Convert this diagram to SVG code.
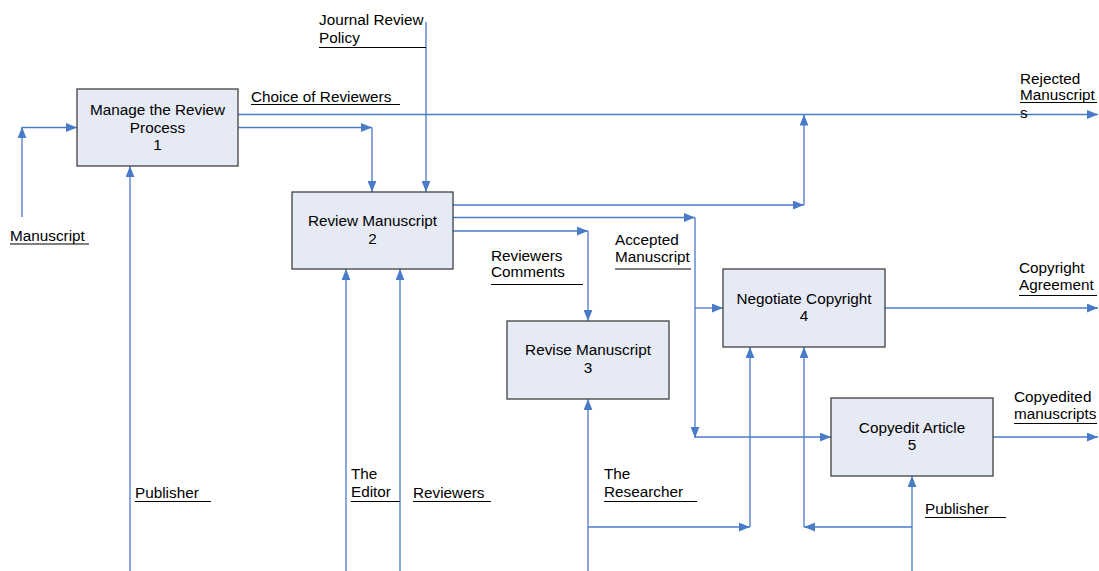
<svg xmlns="http://www.w3.org/2000/svg" width="1099" height="571" viewBox="0 0 1099 571">
  <defs>
    <marker id="arrow" viewBox="0 0 10 8" refX="10" refY="4" markerUnits="userSpaceOnUse" markerWidth="11" markerHeight="9" orient="auto">
      <path d="M0,0 L10,4 L0,8 Z" fill="#4A7BC8"/>
    </marker>
    <style>
      .box { fill: #E6EAF4; stroke: #404040; stroke-width: 1.3; }
      .flow { fill: none; stroke: #4A7BC8; stroke-width: 1.3; marker-end: url(#arrow); }
      .ul { stroke: #000; stroke-width: 1; fill: none; }
      text { font-family: "Liberation Sans", Arial, sans-serif; font-size: 15.3px; fill: #000; }
      .c { text-anchor: middle; }
    </style>
  </defs>
  <rect width="1099" height="571" fill="#fff"/>

  <!-- connectors -->
  <g id="connectors">
    <path class="flow" d="M22,217 V127"/>
    <path class="flow" d="M22,127.5 H77"/>
    <path class="flow" d="M238,114.5 H1098"/>
    <path class="flow" d="M238,127.5 H372"/>
    <path class="flow" d="M372,127.5 V192"/>
    <path class="flow" d="M426,22 V192"/>
    <path class="flow" d="M130,571 V166"/>
    <path class="flow" d="M346,571 V269"/>
    <path class="flow" d="M400,571 V269"/>
    <path class="flow" d="M453,205 H804"/>
    <path class="flow" d="M804,205 V114.5"/>
    <path class="flow" d="M453,217.5 H695"/>
    <path class="flow" d="M695,217.5 V438"/>
    <path class="flow" d="M695,308 H723"/>
    <path class="flow" d="M695,437 H831"/>
    <path class="flow" d="M453,231 H588"/>
    <path class="flow" d="M588,231 V321"/>
    <path class="flow" d="M885,308 H1098"/>
    <path class="flow" d="M993,437 H1098"/>
    <path class="flow" d="M588,571 V399"/>
    <path class="flow" d="M588,527 H750"/>
    <path class="flow" d="M750,527 V347"/>
    <path class="flow" d="M912,571 V476"/>
    <path class="flow" d="M912,527 H804"/>
    <path class="flow" d="M804,527 V347"/>
  </g>

  <!-- arrow labels -->
  <g id="labels">
    <text x="319" y="25">Journal Review</text>
    <text x="319" y="43">Policy</text>
    <line class="ul" x1="319" y1="47.5" x2="426" y2="47.5"/>

    <text x="251" y="101.5">Choice of Reviewers</text>
    <line class="ul" x1="251" y1="104.5" x2="400" y2="104.5"/>

    <text x="10" y="241">Manuscript</text>
    <line class="ul" x1="10" y1="244" x2="89" y2="244"/>

    <text x="1020" y="83.5">Rejected</text>
    <text x="1020" y="100">Manuscript</text>
    <text x="1020" y="117.5">s</text>
    <line class="ul" x1="1020" y1="102.5" x2="1097" y2="102.5"/>

    <text x="491" y="260.5">Reviewers</text>
    <text x="491" y="277">Comments</text>
    <line class="ul" x1="491" y1="284.5" x2="583" y2="284.5"/>

    <text x="615" y="245">Accepted</text>
    <text x="615" y="262">Manuscript</text>
    <line class="ul" x1="615" y1="269" x2="691" y2="269"/>

    <text x="1019" y="272.5">Copyright</text>
    <text x="1019" y="290">Agreement</text>
    <line class="ul" x1="1019" y1="295.5" x2="1097" y2="295.5"/>

    <text x="1014" y="402">Copyedited</text>
    <text x="1014" y="419">manuscripts</text>
    <line class="ul" x1="1014" y1="423.5" x2="1097" y2="423.5"/>

    <text x="135" y="498">Publisher</text>
    <line class="ul" x1="135" y1="501.5" x2="211" y2="501.5"/>

    <text x="351" y="479">The</text>
    <text x="351" y="497">Editor</text>
    <line class="ul" x1="351" y1="501.5" x2="400" y2="501.5"/>

    <text x="413" y="498">Reviewers</text>
    <line class="ul" x1="413" y1="501.5" x2="491" y2="501.5"/>

    <text x="604" y="479">The</text>
    <text x="604" y="497">Researcher</text>
    <line class="ul" x1="604" y1="501.5" x2="697" y2="501.5"/>

    <text x="925" y="513.5">Publisher</text>
    <line class="ul" x1="925" y1="517.5" x2="1006" y2="517.5"/>
  </g>

  <!-- activity boxes -->
  <g id="node1">
    <rect class="box" x="77" y="89" width="161" height="77"/>
    <text class="c" x="157.5" y="115">Manage the Review</text>
    <text class="c" x="157.5" y="132.5">Process</text>
    <text class="c" x="157.5" y="150">1</text>
  </g>
  <g id="node2">
    <rect class="box" x="292" y="192" width="161" height="77"/>
    <text class="c" x="372.5" y="226">Review Manuscript</text>
    <text class="c" x="372.5" y="244">2</text>
  </g>
  <g id="node3">
    <rect class="box" x="507" y="321" width="162" height="78"/>
    <text class="c" x="588" y="355">Revise Manuscript</text>
    <text class="c" x="588" y="373">3</text>
  </g>
  <g id="node4">
    <rect class="box" x="723" y="269" width="162" height="78"/>
    <text class="c" x="804" y="303.5">Negotiate Copyright</text>
    <text class="c" x="804" y="321">4</text>
  </g>
  <g id="node5">
    <rect class="box" x="831" y="398" width="162" height="78"/>
    <text class="c" x="912" y="433">Copyedit Article</text>
    <text class="c" x="912" y="450">5</text>
  </g>
</svg>
